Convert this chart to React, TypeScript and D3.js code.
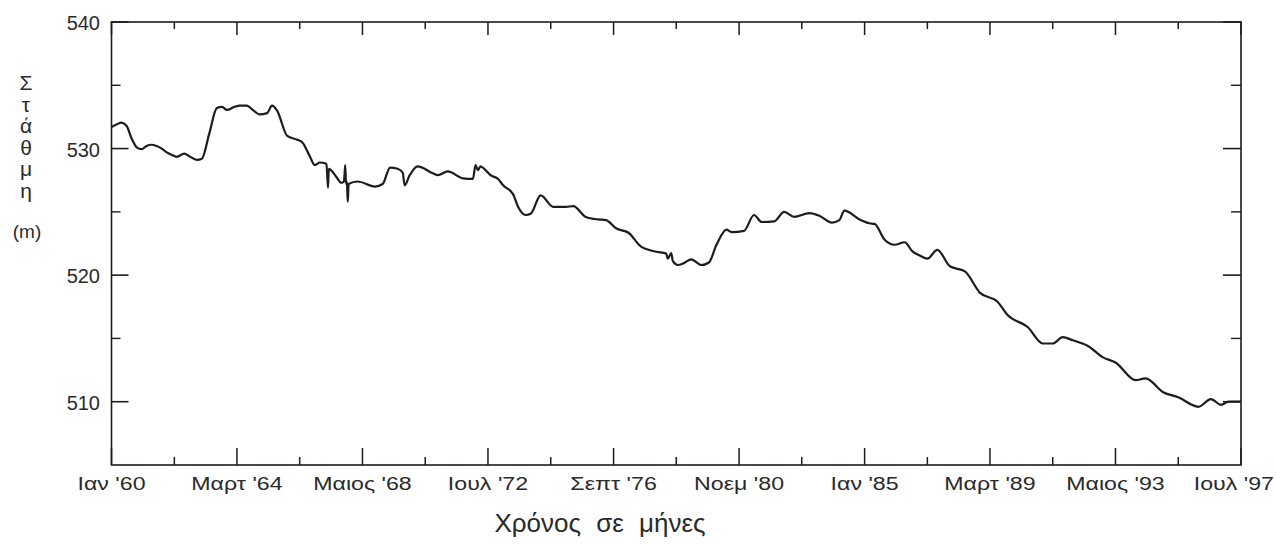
import React from "react";
import * as d3 from "d3";

// ---- data ----
const dates: string[] = [
  "1960-01", "1960-03", "1960-05", "1960-07", "1960-09", "1960-11",
  "1961-01", "1961-03", "1961-05", "1961-07", "1961-09", "1961-11",
  "1962-01", "1962-03", "1962-06", "1962-08", "1962-11",
  "1963-01", "1963-04", "1963-07", "1963-09", "1963-11",
  "1964-02", "1964-04", "1964-07", "1964-09", "1964-12",
  "1965-03", "1965-05", "1965-07", "1965-11",
  "1966-03", "1966-05", "1966-08", "1966-10", "1966-12",
  "1967-02-20", "1967-03-10", "1967-03-20", "1967-06-15", "1967-08-20", "1967-09-20",
  "1967-10-05", "1967-10-15", "1967-10-25", "1967-11-05", "1967-11-15",
  "1968-03", "1968-10",
  "1969-01", "1969-04", "1969-07", "1969-09", "1969-09-25", "1969-11-25",
  "1970-03", "1970-09", "1970-11",
  "1971-03", "1971-09",
  "1972-01", "1972-02", "1972-03", "1972-04", "1972-06", "1972-08", "1972-11",
  "1973-01", "1973-05", "1973-07", "1973-10", "1973-12",
  "1974-04", "1974-09",
  "1975-02", "1975-05", "1975-10",
  "1976-03", "1976-06", "1976-10",
  "1977-03", "1977-08",
  "1978-02", "1978-06", "1978-06-21", "1978-08", "1978-08-21", "1978-10-21",
  "1979-01", "1979-04", "1979-08", "1979-11",
  "1980-02", "1980-06", "1980-08",
  "1981-01", "1981-05", "1981-08",
  "1982-01", "1982-05", "1982-09",
  "1983-03", "1983-07", "1983-12",
  "1984-03", "1984-05", "1984-11",
  "1985-03", "1985-05", "1985-09",
  "1986-01", "1986-05", "1986-08", "1986-11",
  "1987-02", "1987-06", "1987-11",
  "1988-05", "1988-11",
  "1989-06", "1989-10",
  "1990-06", "1990-12",
  "1991-04", "1991-08", "1991-12",
  "1992-06", "1992-12",
  "1993-05",
  "1994-01", "1994-05", "1994-12",
  "1995-06",
  "1996-02", "1996-07", "1996-11",
  "1997-02", "1997-07",
];

const levels: number[] = [
  531.7, 531.9, 532.05, 531.8, 530.8, 530.1,
  529.95, 530.2, 530.3, 530.2, 530.0, 529.7,
  529.5, 529.35, 529.6, 529.4, 529.1,
  529.2, 531.2, 533.2, 533.3, 533.05,
  533.3, 533.4, 533.4, 533.1, 532.7,
  532.8, 533.4, 533.0, 531.0,
  530.7, 530.5, 529.4, 528.7, 528.9,
  528.8, 526.9, 528.4, 527.8, 527.3, 527.4,
  528.7, 527.2, 527.4, 525.8, 527.2,
  527.4, 527.0,
  527.2, 528.5, 528.4, 528.1, 527.1, 527.9,
  528.6, 528.05, 527.9,
  528.2, 527.65,
  527.6, 528.7, 528.3, 528.6, 528.3, 527.9, 527.6,
  527.1, 526.4, 525.4, 524.75, 524.85,
  526.3, 525.4,
  525.4, 525.45, 524.6,
  524.4, 524.35, 523.7,
  523.35, 522.25,
  521.85, 521.7, 521.3, 521.75, 521.1, 520.8,
  520.95, 521.25, 520.8, 521.0,
  522.4, 523.6, 523.4,
  523.5, 524.75, 524.2,
  524.25, 525.0, 524.6,
  524.9, 524.7, 524.15,
  524.35, 525.1, 524.4,
  524.1, 524.05, 522.8,
  522.4, 522.6, 521.9, 521.55,
  521.3, 522.0, 520.7,
  520.3, 518.6,
  517.9, 516.85,
  515.9, 514.6,
  514.6, 515.1, 514.85,
  514.4, 513.5,
  513.1,
  511.7, 511.85, 510.75,
  510.35,
  509.6, 510.2, 509.75,
  510.0, 510.0,
];

// x ticks every 25 months; labels on every other one
const xTickDates: string[] = [
  "1960-01", "1962-02", "1964-03", "1966-04", "1968-05", "1970-06", "1972-07",
  "1974-08", "1976-09", "1978-10", "1980-11", "1982-12", "1985-01", "1987-02",
  "1989-03", "1991-04", "1993-05", "1995-06", "1997-07",
];
const xTickLabels: string[] = [
  "Ιαν '60", "", "Μαρτ '64", "", "Μαιος '68", "", "Ιουλ '72", "", "Σεπτ '76", "",
  "Νοεμ '80", "", "Ιαν '85", "", "Μαρτ '89", "", "Μαιος '93", "", "Ιουλ '97",
];

const yMajorTicks: number[] = [510, 520, 530, 540];
const yMinorTicks: number[] = [515, 525, 535];
const yDomain: [number, number] = [505, 540];

const yTitleLetters: string[] = ["Σ", "τ", "ά", "θ", "μ", "η"];
const yUnit = "(m)";
const xTitle = "Χρόνος σε μήνες";

const parse = (s: string) => {
  const [y, m, d] = s.split("-").map(Number);
  return new Date(y, m - 1, d || 1);
};

export default function App() {
  const W = 1276;
  const H = 546;
  const left = 111.5;
  const right = 1241;
  const top = 22;
  const bottom = 465;

  const x = d3
    .scaleTime()
    .domain([parse("1960-01"), parse("1997-07")])
    .range([left, right]);
  const y = d3.scaleLinear().domain(yDomain).range([bottom, top]);

  const pts = dates.map((d, i) => [parse(d), levels[i]] as [Date, number]);
  const line = d3
    .line<[Date, number]>()
    .x((d) => x(d[0]))
    .y((d) => y(d[1]))
    .curve(d3.curveMonotoneX);

  const ink = "#1c1c1c";
  const txt = "#2a2a2a";
  const font = "'Liberation Sans', Arial, Helvetica, sans-serif";
  const labelStretch = 1.22;

  return (
    <svg
      width={W}
      height={H}
      style={{ position: "absolute", left: 0, top: 0, background: "#fff" }}
    >
      <rect x={0} y={0} width={W} height={H} fill="#fff" />
      {/* frame */}
      <rect
        x={left}
        y={top}
        width={right - left}
        height={bottom - top}
        fill="none"
        stroke={ink}
        strokeWidth={1.6}
      />
      {/* y ticks, left and right, pointing inward */}
      {yMajorTicks.map((v) => (
        <g key={"ym" + v}>
          <line x1={left} x2={left + 17} y1={y(v)} y2={y(v)} stroke={ink} strokeWidth={1.6} />
          <line x1={right} x2={right - 18} y1={y(v)} y2={y(v)} stroke={ink} strokeWidth={1.6} />
          <text
            x={100}
            y={y(v)}
            dy={8}
            textAnchor="end"
            fontFamily={font}
            fontSize={20}
            fill={txt}
          >
            {v}
          </text>
        </g>
      ))}
      {yMinorTicks.map((v) => (
        <g key={"yn" + v}>
          <line x1={left} x2={left + 9} y1={y(v)} y2={y(v)} stroke={ink} strokeWidth={1.4} />
          <line x1={right} x2={right - 10} y1={y(v)} y2={y(v)} stroke={ink} strokeWidth={1.4} />
        </g>
      ))}
      {/* x ticks, top and bottom */}
      {xTickDates.map((d, i) => {
        const xx = x(parse(d));
        const major = i % 2 === 0;
        const isLast = i === xTickDates.length - 1;
        return (
          <g key={"xt" + d}>
            <line x1={xx} x2={xx} y1={bottom} y2={bottom - (major ? 17 : 8)} stroke={ink} strokeWidth={1.5} />
            <line x1={xx} x2={xx} y1={top} y2={top + (major ? 13 : 7)} stroke={ink} strokeWidth={1.5} />
            {xTickLabels[i] && (
              <text
                transform={`translate(${isLast ? W - 2 : xx},${490}) scale(${labelStretch},1)`}
                textAnchor={isLast ? "end" : "middle"}
                fontFamily={font}
                fontSize={19}
                fill={txt}
              >
                {xTickLabels[i]}
              </text>
            )}
          </g>
        );
      })}
      {/* data line */}
      <path d={line(pts) || ""} fill="none" stroke={ink} strokeWidth={2.2} strokeLinejoin="round" />
      {/* y title, stacked letters */}
      {yTitleLetters.map((c, i) => (
        <text
          key={"yl" + i}
          x={26}
          y={90 + i * 21.6}
          textAnchor="middle"
          fontFamily={font}
          fontSize={21}
          fill={txt}
        >
          {c}
        </text>
      ))}
      <text x={27} y={238} textAnchor="middle" fontFamily={font} fontSize={19} fill={txt}>
        {yUnit}
      </text>
      {/* x title */}
      <text
        x={600}
        y={532}
        textAnchor="middle"
        fontFamily={font}
        fontSize={26}
        wordSpacing={8}
        fill={txt}
      >
        {xTitle}
      </text>
    </svg>
  );
}
